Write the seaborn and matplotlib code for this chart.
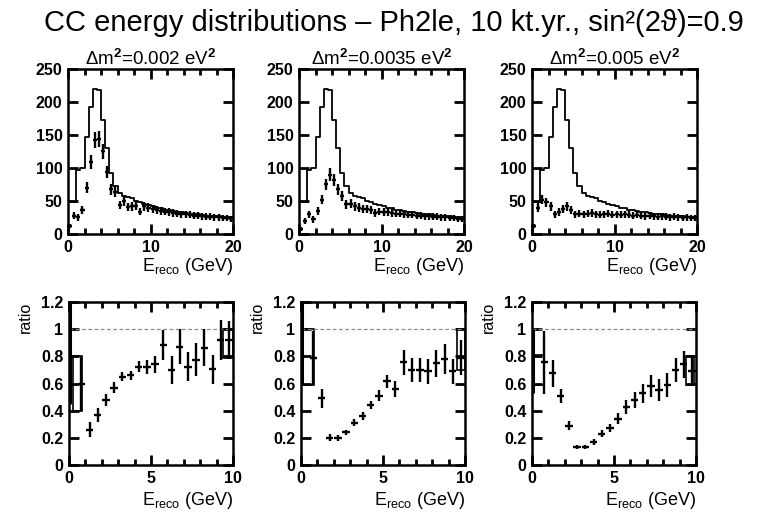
import numpy as np
import pandas as pd
import matplotlib
matplotlib.use("Agg")
import matplotlib.pyplot as plt
from matplotlib.ticker import MultipleLocator, FuncFormatter
import seaborn as sns

# ---- data ----
# top row: 0.5 GeV bins from 0 to 20 GeV
bin_edges = np.linspace(0, 20, 41)
bin_centers = 0.5 * (bin_edges[:-1] + bin_edges[1:])

# no oscillation (thin step histogram, same in all three panels)
unosc = [48, 48, 97, 100, 147, 192, 220, 218, 172, 130,
         92, 72, 62, 58, 56, 54, 50, 48, 46, 44,
         42, 40, 39, 37, 36, 35, 34, 33, 32, 31,
         30, 30, 29, 28, 28, 27, 27, 26, 26, 25]

# oscillated spectra (points)
osc_002 = [12, 28, 25, 37, 70, 109, 143, 144, 125, 94,
           68, 64, 44, 50, 41, 42, 43, 34, 42, 40,
           38, 37, 35, 34, 33, 32, 31, 30, 30, 29,
           28, 28, 27, 26, 26, 25, 25, 24, 24, 23]
osc_0035 = [8, 20, 30, 22, 35, 52, 75, 90, 82, 68,
            58, 45, 46, 42, 40, 38, 38, 37, 32, 34,
            33, 33, 32, 31, 31, 30, 29, 29, 28, 28,
            27, 27, 26, 26, 25, 25, 24, 24, 23, 23]
osc_005 = [12, 40, 52, 48, 42, 30, 33, 38, 42, 36,
           30, 31, 30, 31, 32, 30, 29, 30, 31, 29,
           30, 29, 30, 29, 28, 29, 28, 27, 28, 27,
           26, 27, 26, 25, 26, 25, 24, 25, 24, 24]

# bottom row: ratio, bin centres 0.75 ... 9.75 GeV
ratio_centers = [0.75, 1.25, 1.75, 2.25, 2.75, 3.25, 3.75, 4.25, 4.75, 5.25,
                 5.75, 6.25, 6.75, 7.25, 7.75, 8.25, 8.75, 9.25, 9.75]
ratio_002 = [0.60, 0.26, 0.37, 0.48, 0.57, 0.65, 0.66, 0.725, 0.72, 0.74,
             0.885, 0.70, 0.87, 0.725, 0.775, 0.865, 0.705, 0.92, 0.92]
err_002 = [0.20, 0.055, 0.05, 0.045, 0.04, 0.035, 0.035, 0.04, 0.05, 0.06,
           0.11, 0.10, 0.13, 0.11, 0.12, 0.135, 0.105, 0.15, 0.14]
ratio_0035 = [0.79, 0.49, 0.20, 0.20, 0.24, 0.31, 0.36, 0.44, 0.51, 0.615,
              0.56, 0.755, 0.70, 0.70, 0.69, 0.75, 0.78, 0.69, 0.79]
err_0035 = [0.20, 0.07, 0.025, 0.02, 0.02, 0.025, 0.03, 0.03, 0.04, 0.05,
            0.06, 0.09, 0.09, 0.09, 0.09, 0.10, 0.11, 0.09, 0.13]
ratio_005 = [0.755, 0.675, 0.51, 0.29, 0.135, 0.135, 0.17, 0.23, 0.27, 0.34,
             0.425, 0.48, 0.53, 0.58, 0.55, 0.59, 0.70, 0.74, 0.69]
err_005 = [0.23, 0.10, 0.05, 0.035, 0.015, 0.015, 0.02, 0.025, 0.03, 0.04,
           0.05, 0.06, 0.07, 0.08, 0.08, 0.09, 0.09, 0.10, 0.11]

# first (lowest) bin: big error bar lying on the left axis
first_x = 0.08
first_lo = [0.45, 0.59, 0.53]
first_hi = [1.2, 1.2, 1.0]

# open boxes at the ends of the ratio range: (x_left, x_right, y_lo, y_hi)
boxes_002 = [(0.25, 0.80, 0.40, 0.80), (9.40, 10.0, 0.79, 1.00)]
boxes_0035 = [(0.15, 0.77, 0.59, 1.00), (9.50, 10.0, 0.70, 1.00)]
boxes_005 = [(0.10, 0.75, 0.59, 0.81), (9.40, 9.85, 0.59, 0.80)]

panel_titles = ["\u0394m$^2$=0.002 eV$^2$", "\u0394m$^2$=0.0035 eV$^2$",
                "\u0394m$^2$=0.005 eV$^2$"]
osc_all = [osc_002, osc_0035, osc_005]
ratio_all = [ratio_002, ratio_0035, ratio_005]
err_all = [err_002, err_0035, err_005]
boxes_all = [boxes_002, boxes_0035, boxes_005]

spectrum = pd.DataFrame({"E": bin_centers, "n": unosc})

# ---- style ----
sns.set_theme(style="ticks")
plt.rcParams["font.family"] = ["Liberation Sans", "DejaVu Sans"]
plt.rcParams["font.weight"] = "bold"
plt.rcParams["mathtext.fontset"] = "custom"
plt.rcParams["mathtext.rm"] = "Liberation Sans:bold"
plt.rcParams["mathtext.it"] = "Liberation Sans:italic:bold"
plt.rcParams["mathtext.bf"] = "Liberation Sans:bold"
plt.rcParams["axes.linewidth"] = 1.8
plt.rcParams["axes.edgecolor"] = "black"
plt.rcParams["text.color"] = "black"
plt.rcParams["axes.labelcolor"] = "black"
plt.rcParams["xtick.labelsize"] = 11.5
plt.rcParams["ytick.labelsize"] = 11.5

fig = plt.figure(figsize=(7.7, 5.15), dpi=100)
W, H = 770, 515
top_lefts = [68, 299, 532]
bot_lefts = [69, 301, 532]

fig.text(0.512, 1 - 23 / H,
         "CC energy distributions \u2013 Ph2le, 10 kt.yr., sin\u00b2(2\u03d1)=0.9",
         ha="center", va="center", fontsize=21, fontweight="normal")

xlab = "E$_{\\mathregular{reco}}$ (GeV)"


def finish_ticks(ax):
    # ROOT-like frame: ticks inside on all four sides, drawn thick enough to show
    ax.tick_params(which="both", direction="in", bottom=True, left=True,
                   top=True, right=True, color="black", labelcolor="black",
                   width=2.0, pad=4)
    ax.tick_params(which="major", length=7)
    ax.tick_params(which="minor", length=4)


for i in range(3):
    # top row
    ax = fig.add_axes([top_lefts[i] / W, 1 - 234 / H, 165 / W, 165 / H])
    sns.histplot(data=spectrum, x="E", weights="n", bins=list(bin_edges),
                 element="step", fill=False, color="black", linewidth=1.3, ax=ax)
    osc = np.array(osc_all[i], dtype=float)
    ax.errorbar(bin_centers, osc, xerr=0.25, yerr=np.sqrt(osc), fmt="none",
                ecolor="black", elinewidth=1.7, capsize=0)
    ax.set_xlim(0, 20)
    ax.set_ylim(0, 250)
    ax.xaxis.set_major_locator(MultipleLocator(10))
    ax.xaxis.set_minor_locator(MultipleLocator(2))
    ax.yaxis.set_major_locator(MultipleLocator(50))
    ax.set_ylabel("")
    ax.set_xlabel(xlab, loc="right", fontsize=13, labelpad=1)
    ax.set_title(panel_titles[i], fontsize=13.5, pad=1)
    finish_ticks(ax)

    # bottom row
    bx = fig.add_axes([bot_lefts[i] / W, 1 - 465 / H, 164 / W, 163 / H])
    bx.axhline(1.0, color="0.55", lw=0.9, ls=(0, (3, 2)))
    bx.errorbar(ratio_centers, ratio_all[i], xerr=0.22, yerr=err_all[i],
                fmt="none", ecolor="black", elinewidth=1.7, capsize=0)
    bx.vlines(first_x, first_lo[i], first_hi[i], color="black", lw=2.2)
    for (x0, x1, y0, y1) in boxes_all[i]:
        bx.bar(x0, y1 - y0, width=x1 - x0, bottom=y0, align="edge",
               fill=False, edgecolor="black", linewidth=1.2)
    bx.set_xlim(0, 10)
    bx.set_ylim(0, 1.2)
    bx.xaxis.set_major_locator(MultipleLocator(5))
    bx.xaxis.set_minor_locator(MultipleLocator(1))
    bx.yaxis.set_major_locator(MultipleLocator(0.2))
    bx.yaxis.set_major_formatter(FuncFormatter(lambda v, p: f"{v:g}"))
    bx.set_xlabel(xlab, loc="right", fontsize=13, labelpad=3)
    bx.set_ylabel("ratio", loc="top", fontsize=11.5, labelpad=6)
    finish_ticks(bx)

fig.savefig("out.png", dpi=100)
